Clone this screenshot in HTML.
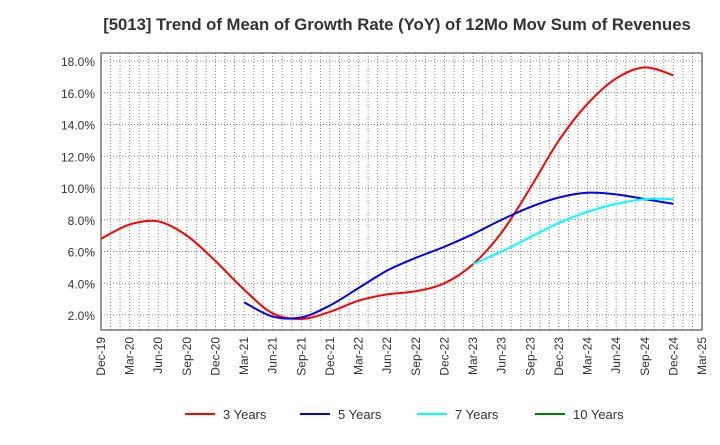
<!DOCTYPE html>
<html><head><meta charset="utf-8"><style>
body{margin:0;background:#fff;font-family:"Liberation Sans",sans-serif;}
</style></head><body>
<svg id="c" width="720" height="440" xmlns="http://www.w3.org/2000/svg">
<text x="397" y="30" text-anchor="middle" font-size="16.7" font-weight="bold" fill="#333">[5013]  Trend of Mean of Growth Rate (YoY) of 12Mo Mov Sum of Revenues</text>
<g id="grid"></g><g id="axes"></g><g id="series"></g><g id="legend"></g>
</svg>
<script>
const xLabels=["Dec-19","Mar-20","Jun-20","Sep-20","Dec-20","Mar-21","Jun-21","Sep-21","Dec-21","Mar-22","Jun-22","Sep-22","Dec-22","Mar-23","Jun-23","Sep-23","Dec-23","Mar-24","Jun-24","Sep-24","Dec-24","Mar-25"];
const yTicks=[2,4,6,8,10,12,14,16,18];
const s3=[6.8,7.7,7.9,7.0,5.4,3.6,2.1,1.75,2.2,2.9,3.3,3.5,4.0,5.2,7.2,10.0,13.0,15.3,16.9,17.6,17.1];
const s5=[2.8,1.9,1.85,2.6,3.7,4.8,5.6,6.3,7.1,8.0,8.8,9.4,9.7,9.6,9.3,9.0];
const s7=[5.2,6.0,6.9,7.8,8.5,9.0,9.3,9.3];
const s10=[];
const seriesNames=["3 Years","5 Years","7 Years","10 Years"];
const seriesColors=["#ff0000","#0000ee","#00ffff","#008000"];
const seriesStart=[0,5,13,0];
const L=101,R=702,T=53,B=330;
const NS="http://www.w3.org/2000/svg";
function xq(q){return L+(R-L)*q/21;}
function xm(m){return L+(R-L)*m/63;}
function y(v){return 346.75-v*15.875;}
function el(t,a,p){const e=document.createElementNS(NS,t);for(const k in a)e.setAttribute(k,a[k]);p.appendChild(e);return e;}
const grid=document.getElementById('grid'),axes=document.getElementById('axes'),ser=document.getElementById('series'),leg=document.getElementById('legend');
for(let m=1;m<63;m++){const g=el('line',{x1:xm(m),x2:xm(m),y1:T,y2:B,stroke:'#888','stroke-dasharray':'1,2','stroke-width':1},grid);

}
yTicks.forEach(v=>{const g=el('line',{x1:L,x2:R,y1:y(v),y2:y(v),stroke:'#888','stroke-dasharray':'1,2'},grid);


const t=el('text',{x:L-6,y:y(v)+5,'text-anchor':'end','font-size':12,fill:'#333'},axes);t.textContent=v.toFixed(1)+'%';

});
const fr=el('rect',{x:L,y:T,width:R-L,height:B-T,fill:'none',stroke:'#333','stroke-width':1},axes);


xLabels.forEach((s,i)=>{const x=xq(i);const t=el('text',{x:0,y:0,transform:`translate(${x+4},337) rotate(-90)`,'text-anchor':'end','font-size':12,fill:'#333'},axes);t.textContent=s;

});
function path(pts){let d=`M${pts[0][0]},${pts[0][1]}`;for(let i=0;i<pts.length-1;i++){const p0=pts[i-1]||pts[i],p1=pts[i],p2=pts[i+1],p3=pts[i+2]||p2;
d+=` C${p1[0]+(p2[0]-p0[0])/6},${p1[1]+(p2[1]-p0[1])/6} ${p2[0]-(p3[0]-p1[0])/6},${p2[1]-(p3[1]-p1[1])/6} ${p2[0]},${p2[1]}`;}return d;}
[s3,s5,s7,s10].forEach((arr,k)=>{if(arr.length<2)return;const pts=arr.map((v,i)=>[xq(seriesStart[k]+i),y(v)]);
const p=el('path',{d:path(pts),fill:'none',stroke:seriesColors[k],'stroke-width':2},ser);

});
const lx=[185,300,417,535];
seriesNames.forEach((n,k)=>{const g=el('g',{},leg);


el('line',{x1:lx[k],x2:lx[k]+30,y1:414,y2:414,stroke:seriesColors[k],'stroke-width':2},g);
const t=el('text',{x:lx[k]+38,y:419,'font-size':13,fill:'#333'},g);t.textContent=n;});
</script>
</body></html>
